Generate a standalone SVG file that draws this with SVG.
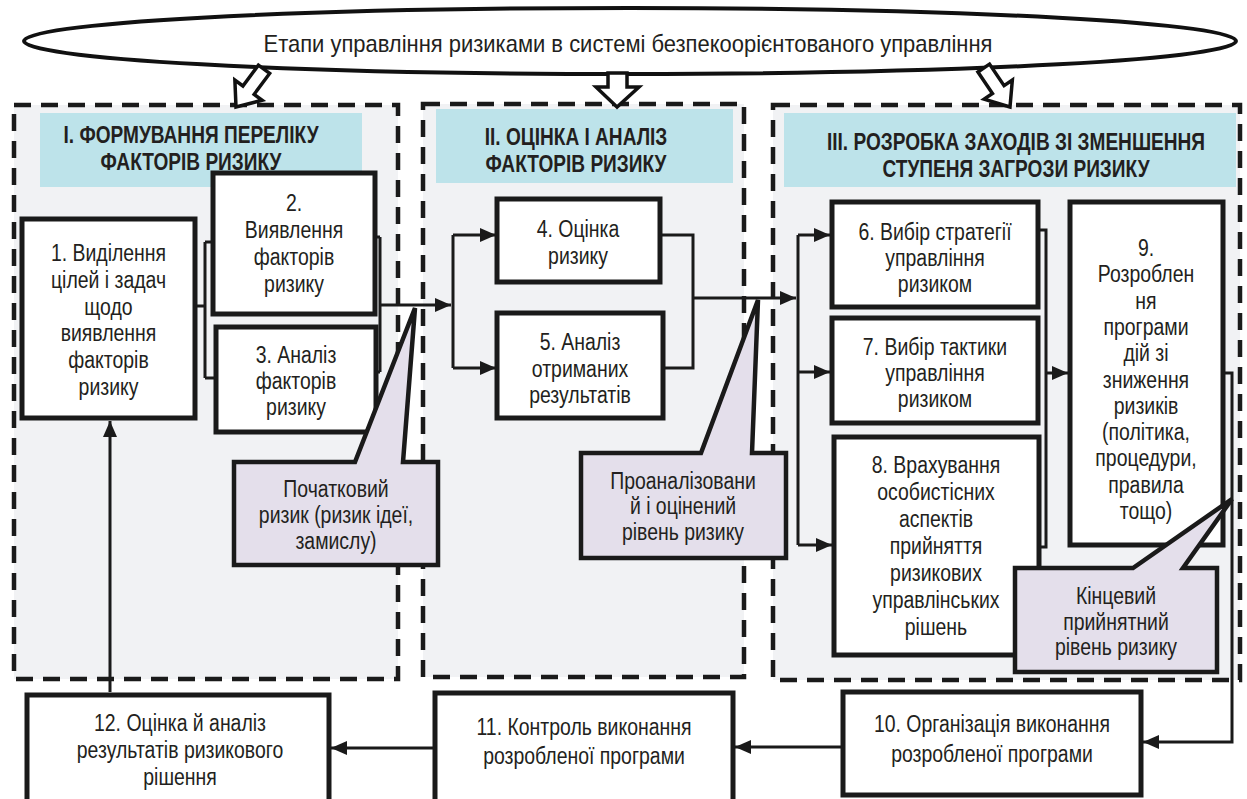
<svg xmlns="http://www.w3.org/2000/svg" width="1247" height="799" viewBox="0 0 1247 799">
<defs>
<style>
.panel{fill:#f1f2f4;stroke:#1a1a1a;stroke-width:4.5;stroke-dasharray:17 10}
.title{fill:#bde3ea}
.box{fill:#fff;stroke:#1a1a1a;stroke-width:5}
.call{fill:#e4dfeb;stroke:#1a1a1a;stroke-width:4.5;stroke-linejoin:miter}
.ln{fill:none;stroke:#1a1a1a;stroke-width:3}
.arr{marker-end:url(#ah)}
.t{font-family:"Liberation Sans",Arial,sans-serif;font-size:24px;fill:#231f20;text-anchor:middle}
.tb{font-weight:bold;font-size:23px}
.blk{fill:#fff;stroke:#111;stroke-width:3.5;stroke-linejoin:miter}
.ell{fill:#fff;stroke:#111;stroke-width:4}
</style>
<marker id="ah" viewBox="0 0 16 14" refX="16" refY="7" markerWidth="16" markerHeight="14" markerUnits="userSpaceOnUse" orient="auto"><path d="M0,0 L16,7 L0,14 z" fill="#1a1a1a"/></marker>
</defs>
<rect width="1247" height="799" fill="#fff"/>

<g id="panels">
<rect class="panel" x="14" y="105" width="384" height="574"/>
<rect class="panel" x="423" y="104" width="321" height="573"/>
<rect class="panel" x="773" y="105" width="467" height="575"/>
<rect class="title" x="40" y="113" width="322" height="74"/>
<rect class="title" x="436" y="109" width="297" height="74"/>
<rect class="title" x="784" y="113" width="452" height="74"/>
<text class="t tb" transform="translate(191,0) scale(0.83,1)"><tspan x="0" y="143">І. ФОРМУВАННЯ ПЕРЕЛІКУ</tspan><tspan x="0" y="170">ФАКТОРІВ РИЗИКУ</tspan></text>
<text class="t tb" transform="translate(576,0) scale(0.83,1)"><tspan x="0" y="145">ІІ. ОЦІНКА І АНАЛІЗ</tspan><tspan x="0" y="172">ФАКТОРІВ РИЗИКУ</tspan></text>
<text class="t tb" transform="translate(1016,0) scale(0.83,1)"><tspan x="0" y="150">ІІІ. РОЗРОБКА ЗАХОДІВ ЗІ ЗМЕНШЕННЯ</tspan><tspan x="0" y="177">СТУПЕНЯ ЗАГРОЗИ РИЗИКУ</tspan></text>
</g>

<g id="connectors">
<path class="ln" d="M195,306 H205 M205,242 V378 M205,242 H213 M205,378 H216 M375,237 H380 M376,372 H380 M380,237 V372"/>
<path class="ln arr" d="M380,305 H451"/>
<path class="ln" d="M453,235 V368 M660,235 H693 V368 H663"/>
<path class="ln arr" d="M453,235 H496"/>
<path class="ln arr" d="M453,368 H496"/>
<path class="ln arr" d="M693,298 H796"/>
<path class="ln" d="M798,235 V545 M1038,230 H1046 V547 H1039"/>
<path class="ln arr" d="M798,235 H830"/>
<path class="ln arr" d="M798,372 H830"/>
<path class="ln arr" d="M798,545 H832"/>
<path class="ln arr" d="M1046,373 H1068"/>
<path class="ln arr" d="M1223,373 H1232 V742 H1143"/>
<path class="ln arr" d="M843,747 H735"/>
<path class="ln arr" d="M435,748 H331"/>
<path class="ln arr" d="M110,692 V421"/>
</g>

<g id="n1"><rect class="box" x="22" y="219" width="173" height="199"/>
<text class="t" transform="translate(108.5,0) scale(0.81,1)"><tspan x="0" y="261">1. Виділення</tspan><tspan x="0" y="288">цілей і задач</tspan><tspan x="0" y="315">щодо</tspan><tspan x="0" y="341">виявлення</tspan><tspan x="0" y="368">факторів</tspan><tspan x="0" y="395">ризику</tspan></text></g>
<g id="n2"><rect class="box" x="213" y="173" width="162" height="141"/>
<text class="t" transform="translate(294,0) scale(0.81,1)"><tspan x="0" y="211">2.</tspan><tspan x="0" y="238">Виявлення</tspan><tspan x="0" y="265">факторів</tspan><tspan x="0" y="292">ризику</tspan></text></g>
<g id="n3"><rect class="box" x="216" y="327" width="160" height="105"/>
<text class="t" transform="translate(296,0) scale(0.81,1)"><tspan x="0" y="363">3. Аналіз</tspan><tspan x="0" y="389">факторів</tspan><tspan x="0" y="415">ризику</tspan></text></g>
<g id="n4"><rect class="box" x="497" y="199" width="163" height="83"/>
<text class="t" transform="translate(578,0) scale(0.81,1)"><tspan x="0" y="237">4. Оцінка</tspan><tspan x="0" y="264">ризику</tspan></text></g>
<g id="n5"><rect class="box" x="497" y="313" width="166" height="105"/>
<text class="t" transform="translate(580,0) scale(0.81,1)"><tspan x="0" y="350">5. Аналіз</tspan><tspan x="0" y="377">отриманих</tspan><tspan x="0" y="403">результатів</tspan></text></g>
<g id="n6"><rect class="box" x="832" y="202" width="206" height="105"/>
<text class="t" transform="translate(935,0) scale(0.81,1)"><tspan x="0" y="240">6. Вибір стратегії</tspan><tspan x="0" y="266">управління</tspan><tspan x="0" y="292">ризиком</tspan></text></g>
<g id="n7"><rect class="box" x="832" y="318" width="206" height="105"/>
<text class="t" transform="translate(935,0) scale(0.81,1)"><tspan x="0" y="355">7. Вибір тактики</tspan><tspan x="0" y="381">управління</tspan><tspan x="0" y="407">ризиком</tspan></text></g>
<g id="n8"><rect class="box" x="834" y="437" width="205" height="218"/>
<text class="t" transform="translate(936,0) scale(0.81,1)"><tspan x="0" y="473">8. Врахування</tspan><tspan x="0" y="500">особистісних</tspan><tspan x="0" y="527">аспектів</tspan><tspan x="0" y="554">прийняття</tspan><tspan x="0" y="581">ризикових</tspan><tspan x="0" y="608">управлінських</tspan><tspan x="0" y="635">рішень</tspan></text></g>
<g id="n9"><rect class="box" x="1070" y="202" width="153" height="343"/>
<text class="t" transform="translate(1146,0) scale(0.81,1)"><tspan x="0" y="256">9.</tspan><tspan x="0" y="282">Розроблен</tspan><tspan x="0" y="309">ня</tspan><tspan x="0" y="335">програми</tspan><tspan x="0" y="361">дій зі</tspan><tspan x="0" y="388">зниження</tspan><tspan x="0" y="414">ризиків</tspan><tspan x="0" y="440">(політика,</tspan><tspan x="0" y="466">процедури,</tspan><tspan x="0" y="493">правила</tspan><tspan x="0" y="519">тощо)</tspan></text></g>
<g id="n10"><rect class="box" x="843" y="692" width="298" height="103"/>
<text class="t" transform="translate(992,0) scale(0.81,1)"><tspan x="0" y="732">10. Організація виконання</tspan><tspan x="0" y="762">розробленої програми</tspan></text></g>
<g id="n11"><rect class="box" x="435" y="693" width="298" height="120"/>
<text class="t" transform="translate(584,0) scale(0.81,1)"><tspan x="0" y="735">11. Контроль виконання</tspan><tspan x="0" y="764">розробленої програми</tspan></text></g>
<g id="n12"><rect class="box" x="27" y="695" width="302" height="120"/>
<text class="t" transform="translate(180,0) scale(0.81,1)"><tspan x="0" y="731">12. Оцінка й аналіз</tspan><tspan x="0" y="758">результатів ризикового</tspan><tspan x="0" y="785">рішення</tspan></text></g>

<g id="c1"><path class="call" d="M234,462 H355 L415,308 L403,462 H438 V565 H234 Z"/>
<text class="t" transform="translate(336,0) scale(0.81,1)"><tspan x="0" y="497">Початковий</tspan><tspan x="0" y="523">ризик (ризик ідеї,</tspan><tspan x="0" y="549">замислу)</tspan></text></g>
<g id="c2"><path class="call" d="M581,453 H701 L758,300 L752,453 H786 V558 H581 Z"/>
<text class="t" transform="translate(683,0) scale(0.81,1)"><tspan x="0" y="489">Проаналізовани</tspan><tspan x="0" y="514">й і оцінений</tspan><tspan x="0" y="540">рівень ризику</tspan></text></g>
<g id="c3"><path class="call" d="M1015,568 H1133 L1232,499 L1183,568 H1217 V672 H1015 Z"/>
<text class="t" transform="translate(1116,0) scale(0.81,1)"><tspan x="0" y="604">Кінцевий</tspan><tspan x="0" y="630">прийнятний</tspan><tspan x="0" y="655">рівень ризику</tspan></text></g>

<g id="header">
<ellipse class="ell" cx="630" cy="41" rx="606" ry="33"/>
<text class="t" transform="translate(628,0) scale(0.915,1)" x="0" y="52">Етапи управління ризиками в системі безпекоорієнтованого управління</text>
<polygon class="blk" transform="translate(236,107) rotate(36.6)" points="0,0 -17,-21 -7,-21 -7,-47 7,-47 7,-21 17,-21"/>
<polygon class="blk" points="617,107 596,87 608,87 608,73 627,73 627,87 639,87"/>
<polygon class="blk" transform="translate(1010,107) rotate(-34)" points="0,0 -17,-21 -7,-21 -7,-47 7,-47 7,-21 17,-21"/>
</g>
</svg>
